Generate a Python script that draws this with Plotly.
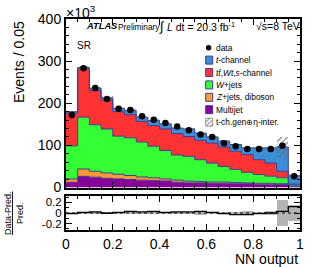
import plotly.graph_objects as go

W, H = 316, 267

# ---- data (event counts in units of 10^3) ----
bin_edges = [0.0, 0.05, 0.10, 0.15, 0.20, 0.25, 0.30, 0.35, 0.40, 0.45, 0.50,
             0.55, 0.60, 0.65, 0.70, 0.75, 0.80, 0.85, 0.90, 0.95, 1.0]
multijet = [12.5, 26.5, 24.5, 22, 20.5, 19, 17.5, 16.5, 15.5, 12.5,
            11, 11, 10, 10, 9, 9, 8, 8, 7, 2]
zjets_diboson = [8, 17.5, 14, 12.5, 11, 9.5, 7.5, 6.5, 5, 5,
                 4, 3, 3, 3, 3, 2, 2, 2, 2, 1]
wjets = [78.5, 123, 110.5, 104.5, 90.5, 89.5, 83, 75, 67.5, 59.5,
         59, 52, 45, 37, 31, 25, 21, 17, 14, 3]
ttbar_wt_s = [77.5, 114, 81, 69, 58, 55, 49, 49, 51, 51,
              47, 46, 47.5, 46, 43, 42, 35, 31, 15.5, 2]
tchannel = [3.5, 4, 6, 5, 8, 10, 10, 12, 12, 13,
            18, 17, 14.5, 14, 16, 16, 28, 36, 57.5, 20]
data = [172, 283, 236, 210, 187, 184, 169, 161, 153, 145,
        136, 126, 120, 105, 98, 91.5, 91.5, 91.5, 99, 27]
ratio = [-0.01, 0.01, 0.02, -0.005, 0.01, 0.03, 0.02, 0.03, 0.01, 0.02,
         0.02, 0.03, 0.01, -0.01, -0.03, -0.03, -0.01, 0.0, 0.03, 0.12]
rel_unc = [0.01, 0.015, 0.01, 0.015, 0.01, 0.015, 0.01, 0.02, 0.01, 0.015,
           0.01, 0.03, 0.01, 0.015, 0.02, 0.03, 0.015, 0.03, 0.25, 0.15]

x_ticks = [0, 0.2, 0.4, 0.6, 0.8, 1.0]
x_ticktext = ["0", "0.2", "0.4", "0.6", "0.8", "1"]
y_ticks = [0, 100, 200, 300, 400]
r_ticks = [-0.2, 0, 0.2]
r_ticktext = ["-0.2", "0", "0.2"]

C_BLUE = "#3a8ed6"
C_RED = "#ff3333"
C_GREEN = "#33ff33"
C_ORANGE = "#ff9933"
C_PURPLE = "#880099"
C_OUT = "#3c3c96"
FONT = "Liberation Sans, Arial, sans-serif"

def px(x):
    return x / W

def py(y):
    return 1 - y / H

centers = [(bin_edges[i] + bin_edges[i + 1]) / 2 for i in range(len(bin_edges) - 1)]
widths = [bin_edges[i + 1] - bin_edges[i] for i in range(len(bin_edges) - 1)]

fig = go.Figure()

layers = [
    (multijet, C_PURPLE),
    (zjets_diboson, C_ORANGE),
    (wjets, C_GREEN),
    (ttbar_wt_s, C_RED),
    (tchannel, C_BLUE),
]
cum = [0.0] * len(centers)
first = True
for vals, col in layers:
    new = [c + v for c, v in zip(cum, vals)]
    fig.add_trace(go.Scatter(
        x=bin_edges, y=new + [new[-1]], mode="lines",
        line=dict(shape="hv", color=C_OUT, width=1),
        fill="tozeroy" if first else "tonexty", fillcolor=col,
        xaxis="x", yaxis="y", showlegend=False, hoverinfo="skip"))
    first = False
    cum = new
total = cum

# hatched uncertainty band (overlay subplot so it sits above the stack)
fig.add_trace(go.Bar(
    x=centers, y=[2 * u * t for u, t in zip(rel_unc, total)],
    base=[t * (1 - u) for u, t in zip(rel_unc, total)], width=widths,
    marker=dict(color="rgba(0,0,0,0)", line=dict(width=0),
                pattern=dict(shape="/", fgcolor="#666666", bgcolor="rgba(0,0,0,0)",
                             fillmode="replace", size=4, solidity=0.25)),
    xaxis="x", yaxis="y3", showlegend=False, hoverinfo="skip"))
fig.add_trace(go.Scatter(
    x=centers, y=data, mode="markers",
    marker=dict(color="black", size=6.5, symbol="circle"),
    xaxis="x", yaxis="y3", showlegend=False, hoverinfo="skip"))

# ratio panel
fig.add_trace(go.Bar(
    x=centers, y=[2 * u for u in rel_unc], base=[-u for u in rel_unc], width=widths,
    marker=dict(color="#b4b4b4", line=dict(width=0)),
    xaxis="x2", yaxis="y2", showlegend=False, hoverinfo="skip"))
fig.add_trace(go.Scatter(
    x=[0, 1], y=[0, 0], mode="lines", line=dict(color="black", width=1, dash="dot"),
    xaxis="x2", yaxis="y2", showlegend=False, hoverinfo="skip"))
fig.add_trace(go.Scatter(
    x=bin_edges, y=ratio + [ratio[-1]], mode="lines",
    line=dict(shape="hv", color="black", width=1.3),
    xaxis="x2", yaxis="y2", showlegend=False, hoverinfo="skip"))

# legend hatch swatch
fig.add_trace(go.Bar(
    x=[0.5], y=[1], width=[1],
    marker=dict(color="rgba(0,0,0,0)", line=dict(width=0),
                pattern=dict(shape="/", fgcolor="#777777", bgcolor="rgba(0,0,0,0)",
                             fillmode="replace", size=3, solidity=0.3)),
    xaxis="x4", yaxis="y4", showlegend=False, hoverinfo="skip"))

main_x = [px(66), px(300)]
main_y = [py(187.5), py(19)]
rat_y = [py(230), py(196)]

axis_common = dict(showline=True, linecolor="black", linewidth=2, mirror="ticks",
                   ticks="inside", ticklen=6, tickwidth=1, tickcolor="black",
                   showgrid=False, zeroline=False, fixedrange=True, automargin=False)

fig.update_layout(
    width=W, height=H, margin=dict(l=0, r=0, t=0, b=0, autoexpand=False),
    paper_bgcolor="white", plot_bgcolor="white",
    font=dict(family=FONT, color="black", size=14),
    barmode="overlay", bargap=0,
    xaxis=dict(domain=main_x, range=[0, 1], anchor="y", tickvals=x_ticks,
               showticklabels=False,
               minor=dict(dtick=0.05, tick0=0, ticks="inside", ticklen=3, tickcolor="black"),
               **axis_common),
    yaxis=dict(domain=main_y, range=[0, 400], anchor="x", tickvals=y_ticks,
               tickfont=dict(size=14),
               minor=dict(dtick=20, tick0=0, ticks="inside", ticklen=3, tickcolor="black"),
               **axis_common),
    yaxis3=dict(overlaying="y", range=[0, 400], visible=False, anchor="x",
                fixedrange=True, automargin=False),
    xaxis2=dict(domain=main_x, range=[0, 1], anchor="y2", tickvals=x_ticks,
                ticktext=x_ticktext, tickfont=dict(size=14),
                minor=dict(dtick=0.05, tick0=0, ticks="inside", ticklen=3, tickcolor="black"),
                **axis_common),
    yaxis2=dict(domain=rat_y, range=[-0.32, 0.32], anchor="x2", tickvals=r_ticks,
                ticktext=r_ticktext, tickfont=dict(size=11.5),
                minor=dict(dtick=0.1, tick0=0, ticks="inside", ticklen=3, tickcolor="black"),
                **axis_common),
    xaxis4=dict(domain=[px(205.7), px(212.7)], range=[0, 1], visible=False, anchor="y4",
                fixedrange=True, automargin=False),
    yaxis4=dict(domain=[py(126.1), py(118.1)], range=[0, 1], visible=False, anchor="x4",
                fixedrange=True, automargin=False),
)

ann = []
def text(x, y, s, size, xanchor="left", yanchor="middle", angle=0, align="left"):
    ann.append(dict(x=px(x), y=py(y), xref="paper", yref="paper", text=s,
                    showarrow=False, xanchor=xanchor, yanchor=yanchor,
                    textangle=angle, align=align, font=dict(size=size, family=FONT, color="black")))

text(64, 12, "×10<sup>3</sup>", 14, xanchor="left")
text(9, 19, "Events / 0.05", 14, xanchor="left", yanchor="top", angle=-90)
text(1, 213, "<u>Data-Pred.</u><br>Pred.", 9, xanchor="left", yanchor="middle", angle=-90, align="center")
text(300, 258.5, "NN output", 14, xanchor="right")
text(84, 26, "<b><i>ATLAS</i></b>", 9.3)
text(116, 26.5, "Preliminary", 8.3)
text(157, 26, "∫", 13)
text(165, 26, "<i>L</i> dt = 20.3 fb<sup>-1</sup>", 10.5)
text(254, 26, "√s=8 TeV", 10.5)
text(75, 46, "SR", 10)

legend_rows = [
    (60.1, C_BLUE, "<i>t</i>-channel"),
    (72.5, C_RED, "<i>t</i><i>t̄</i>,<i>Wt</i>,<i>s</i>-channel"),
    (84.9, C_GREEN, "<i>W</i>+jets"),
    (97.3, C_ORANGE, "<i>Z</i>+jets, diboson"),
    (109.7, C_PURPLE, "Multijet"),
]
LEG_FS = 8.4
shapes = []
for yc, col, label in legend_rows:
    shapes.append(dict(type="rect", xref="paper", yref="paper",
                       x0=px(205.7), x1=px(212.7), y0=py(yc + 4), y1=py(yc - 4),
                       fillcolor=col, line=dict(color=C_OUT, width=1)))
    text(214, yc, label, LEG_FS)
shapes.append(dict(type="rect", xref="paper", yref="paper",
                   x0=px(205.7), x1=px(212.7), y0=py(126.1), y1=py(118.1),
                   fillcolor="rgba(0,0,0,0)", line=dict(color="#999999", width=1)))
text(214, 122.1, "t-ch.gen⊕η-inter.", LEG_FS)
shapes.append(dict(type="circle", xref="paper", yref="paper",
                   x0=px(205.9), x1=px(211.3), y0=py(50.4), y1=py(45.0),
                   fillcolor="black", line=dict(color="black", width=0)))
text(214, 47.7, "data", LEG_FS)

fig.update_layout(annotations=ann, shapes=shapes)
fig.write_html("out.html", config={"displayModeBar": False, "staticPlot": True},
               post_script="document.body.style.margin='0';document.body.style.padding='0';")
